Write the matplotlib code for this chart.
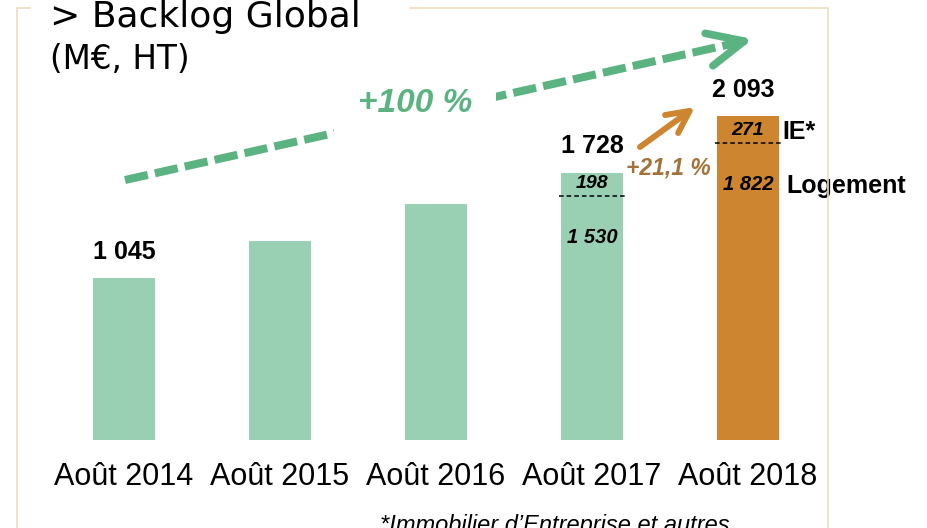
import matplotlib
matplotlib.use('Agg')
import matplotlib.pyplot as plt
from matplotlib.lines import Line2D

# data
years = ['Août 2014', 'Août 2015', 'Août 2016', 'Août 2017', 'Août 2018']
totals = [1045, 1286, 1525, 1728, 2093]
total_labels = ['1 045', None, None, '1 728', '2 093']
# split for the last two years: (IE*, Logement)
ie_vals = [None, None, None, '198', '271']
logement_vals = [None, None, None, '1 530', '1 822']

W, H = 927, 528
GREEN_BAR = '#99cfb3'
ORANGE_BAR = '#cd8530'
GREEN = '#5bb381'
BROWN = '#a3743a'
BORDER = '#f0dcc0'

plt.rcParams['font.family'] = ['Liberation Sans', 'DejaVu Sans']

fig = plt.figure(figsize=(W / 100, H / 100), dpi=100)
ax = fig.add_axes([46 / W, 88 / H, 780 / W, 386.75 / H])

x = list(range(len(years)))
colors = [GREEN_BAR] * 4 + [ORANGE_BAR]
ax.bar(x, totals, width=0.40, color=colors, zorder=2)
ax.set_xlim(-0.5, 4.5)
ax.set_ylim(0, 2500)
ax.set_xticks(x)
ax.set_xticklabels(years, fontsize=22)
ax.tick_params(axis='x', length=0, pad=16)
ax.set_yticks([])
for s in ax.spines.values():
    s.set_visible(False)
ax.patch.set_alpha(0)

# totals above the bars
for i, lab in enumerate(total_labels):
    if lab is None:
        continue
    dx = -0.03 if i == 4 else 0
    ax.annotate(lab, (i + dx, totals[i]), xytext=(0, 19), textcoords='offset points',
                ha='center', va='center', fontsize=18, fontweight='bold')

# split labels inside the last two bars
sep_off = {3: 150, 4: 175}
for i in (3, 4):
    sep = totals[i] - sep_off[i]
    ax.plot([i - 0.21, i + 0.21], [sep, sep], color='black', lw=1.1,
            ls=(0, (3, 2)), zorder=3)
    ax.annotate(ie_vals[i], (i, sep), xytext=(0, 9), textcoords='offset points',
                ha='center', va='center', fontsize=14, fontweight='bold', style='italic')
    ax.annotate(logement_vals[i], (i, sep), xytext=(0, -30), textcoords='offset points',
                ha='center', va='center', fontsize=14.5, fontweight='bold', style='italic')

ax.annotate('IE*', (4.21, totals[4] - 175), xytext=(1, 8), textcoords='offset points',
            ha='left', va='center', fontsize=18, fontweight='bold')
ax.annotate('Logement', (4.21, totals[4] - 175), xytext=(4, -31), textcoords='offset points',
            ha='left', va='center', fontsize=18, fontweight='bold')


def fpx(px, py):
    return (px / W, 1 - py / H)


# frame
fig.add_artist(Line2D([17 / W, 17 / W, 30 / W], [0, 1 - 8 / H, 1 - 8 / H], color=BORDER, lw=1.2))
fig.add_artist(Line2D([410 / W, 828 / W, 828 / W], [1 - 8 / H, 1 - 8 / H, 0], color=BORDER, lw=1.2))

# title
fig.text(50 / W, 1 - 27 / H, '> Backlog Global', fontsize=26, family='DejaVu Sans', va='baseline')
fig.text(50 / W, 1 - 69 / H, '(M€, HT)', fontsize=23.5, family='DejaVu Sans', va='baseline')

# green growth arrow
p0, p1 = fpx(125, 180), fpx(740, 42)
fig.add_artist(Line2D([p0[0], p1[0]], [p0[1], p1[1]], color=GREEN, lw=5.8,
                      ls=(0, (2.9, 0.9)), solid_capstyle='butt', dash_capstyle='butt', zorder=4))
ax.annotate('', xy=(753, H - 39), xycoords='figure pixels', xytext=(728, H - 45),
            textcoords='figure pixels',
            arrowprops=dict(arrowstyle='->,head_length=2.6,head_width=1.2', lw=5.5,
                            color=GREEN, mutation_scale=10, shrinkA=0, shrinkB=0,
                            capstyle='round', joinstyle='round'))
fig.text(415 / W, 1 - 103 / H, '+100 %', fontsize=24, fontweight='bold', style='italic',
         color=GREEN, ha='center', va='center', zorder=5,
         bbox=dict(facecolor='white', edgecolor='none', pad=17))

# orange growth arrow
ax.annotate('', xy=(695, H - 107), xycoords='figure pixels', xytext=(640, H - 147),
            textcoords='figure pixels',
            arrowprops=dict(arrowstyle='->,head_length=1.6,head_width=0.8', lw=4.3,
                            color=ORANGE_BAR, mutation_scale=10, shrinkA=0, shrinkB=0,
                            capstyle='round', joinstyle='round'))
fig.text(668 / W, 1 - 168 / H, '+21,1 %', fontsize=16.5, fontweight='bold', style='italic',
         color=BROWN, ha='center', va='center')

# footnote
fig.text(380 / W, 1 - 514 / H, '*Immobilier d\u2019Entreprise et autres', fontsize=17,
         style='italic', ha='left', va='top')

fig.savefig('out.png', dpi=100)
